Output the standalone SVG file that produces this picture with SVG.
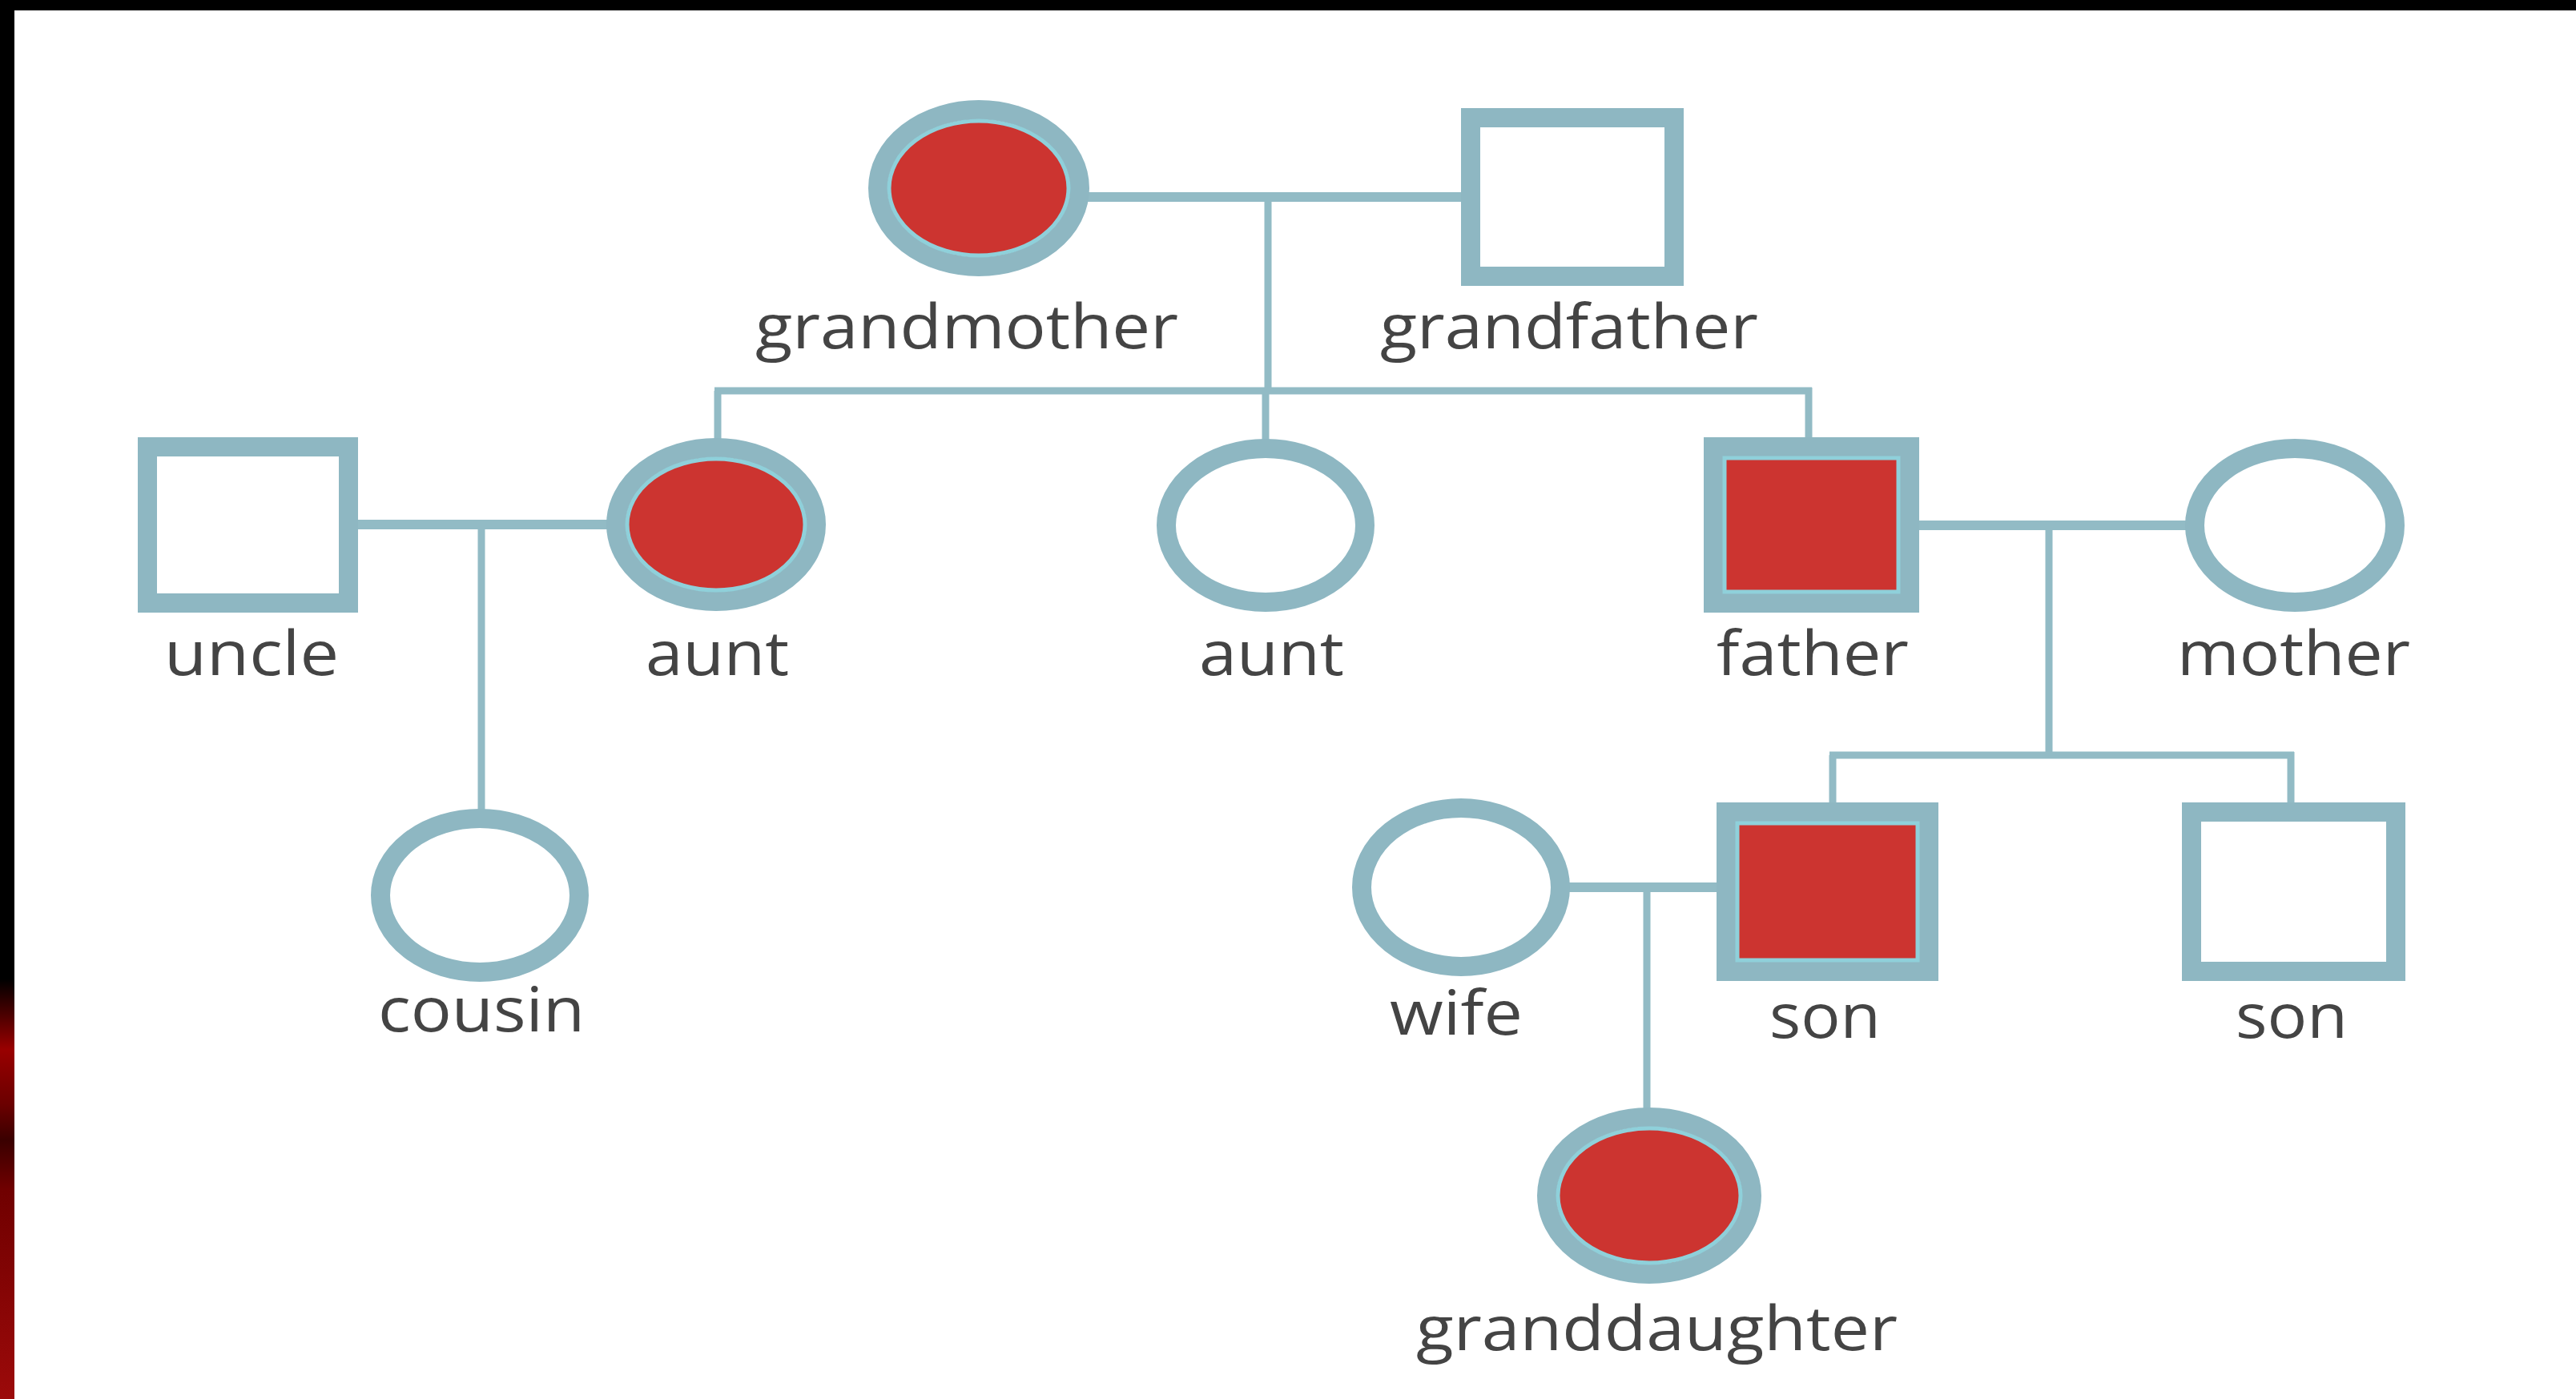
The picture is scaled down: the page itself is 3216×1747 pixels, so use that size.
<svg xmlns="http://www.w3.org/2000/svg" width="3216" height="1747" viewBox="0 0 3216 1747">
  <defs>
    <linearGradient id="edgeGrad" x1="0" y1="0" x2="0" y2="1">
      <stop offset="0" stop-color="#000"/>
      <stop offset="0.70" stop-color="#000"/>
      <stop offset="0.725" stop-color="#4a0000"/>
      <stop offset="0.75" stop-color="#990000"/>
      <stop offset="0.79" stop-color="#6a0000"/>
      <stop offset="0.815" stop-color="#3a0000"/>
      <stop offset="0.85" stop-color="#700000"/>
      <stop offset="1" stop-color="#9c0a0a"/>
    </linearGradient>
    <style>
      .ring { stroke: #8eb7c2; stroke-width: 24; }
      .open { fill: #ffffff; }
      .hit { fill: #cc3430; }
      .inner { fill: none; stroke: #8fd0da; stroke-width: 5; }
      .wire { stroke: #92bbc5; fill: none; }
      .couple { stroke-width: 12; }
      .drop { stroke-width: 9; }
      .label { font-family: "Open Sans", "Noto Sans", "Liberation Sans", sans-serif; font-size: 76px; font-weight: 500; fill: #444444; text-anchor: start; }
    </style>
  </defs>

  <!-- page background and frame -->
  <rect x="0" y="0" width="3216" height="1747" fill="#ffffff"/>
  <rect x="0" y="0" width="3216" height="13" fill="#000"/>
  <rect x="0" y="0" width="18" height="1747" fill="url(#edgeGrad)"/>

  <!-- connectors -->
  <g id="connectors" class="wire">
    <line class="couple" x1="1355" y1="246" x2="1830" y2="246"/>
    <line class="drop" x1="1583" y1="246" x2="1583" y2="488"/>
    <line class="drop" x1="892" y1="488" x2="2262" y2="488"/>
    <line class="drop" x1="896" y1="488" x2="896" y2="550"/>
    <line class="drop" x1="1580" y1="488" x2="1580" y2="550"/>
    <line class="drop" x1="2258" y1="484" x2="2258" y2="550"/>

    <line class="couple" x1="440" y1="655" x2="762" y2="655"/>
    <line class="drop" x1="601" y1="655" x2="601" y2="1012"/>

    <line class="couple" x1="2390" y1="656" x2="2733" y2="656"/>
    <line class="drop" x1="2558" y1="656" x2="2558" y2="943"/>
    <line class="drop" x1="2284" y1="943" x2="2864" y2="943"/>
    <line class="drop" x1="2288" y1="943" x2="2288" y2="1006"/>
    <line class="drop" x1="2860" y1="939" x2="2860" y2="1006"/>

    <line class="couple" x1="1955" y1="1108" x2="2150" y2="1108"/>
    <line class="drop" x1="2056" y1="1108" x2="2056" y2="1386"/>
  </g>

  <!-- first generation -->
  <g id="grandmother">
    <ellipse class="ring hit" cx="1222" cy="235" rx="126" ry="98"/>
    <ellipse class="inner" cx="1222" cy="235" rx="112" ry="84"/>
    <text class="label" x="943" y="435" textLength="528" lengthAdjust="spacingAndGlyphs">grandmother</text>
  </g>
  <g id="grandfather">
    <rect class="ring open" x="1836" y="147" width="254" height="198"/>
    <text class="label" x="1723" y="435" textLength="472" lengthAdjust="spacingAndGlyphs">grandfather</text>
  </g>

  <!-- second generation -->
  <g id="uncle">
    <rect class="ring open" x="184" y="558" width="251" height="195"/>
    <text class="label" x="205" y="843" textLength="218" lengthAdjust="spacingAndGlyphs">uncle</text>
  </g>
  <g id="aunt-affected">
    <ellipse class="ring hit" cx="894" cy="655" rx="125" ry="96"/>
    <ellipse class="inner" cx="894" cy="655" rx="111" ry="82"/>
    <text class="label" x="806" y="843" textLength="179" lengthAdjust="spacingAndGlyphs">aunt</text>
  </g>
  <g id="aunt">
    <ellipse class="ring open" cx="1580" cy="656" rx="124" ry="96"/>
    <text class="label" x="1497" y="843" textLength="181" lengthAdjust="spacingAndGlyphs">aunt</text>
  </g>
  <g id="father">
    <rect class="ring hit" x="2139" y="558" width="245" height="195"/>
    <rect class="inner" x="2153" y="572" width="217" height="167"/>
    <text class="label" x="2143" y="843" textLength="240" lengthAdjust="spacingAndGlyphs">father</text>
  </g>
  <g id="mother">
    <ellipse class="ring open" cx="2865" cy="656" rx="125" ry="96"/>
    <text class="label" x="2718" y="843" textLength="291" lengthAdjust="spacingAndGlyphs">mother</text>
  </g>

  <!-- third generation -->
  <g id="cousin">
    <ellipse class="ring open" cx="599" cy="1118" rx="124" ry="96"/>
    <text class="label" x="472" y="1288" textLength="258" lengthAdjust="spacingAndGlyphs">cousin</text>
  </g>
  <g id="wife">
    <ellipse class="ring open" cx="1824" cy="1108" rx="124" ry="99"/>
    <text class="label" x="1735" y="1292" textLength="166" lengthAdjust="spacingAndGlyphs">wife</text>
  </g>
  <g id="son-affected">
    <rect class="ring hit" x="2155" y="1014" width="253" height="199"/>
    <rect class="inner" x="2169" y="1028" width="225" height="171"/>
    <text class="label" x="2209" y="1296" textLength="139" lengthAdjust="spacingAndGlyphs">son</text>
  </g>
  <g id="son">
    <rect class="ring open" x="2736" y="1014" width="255" height="199"/>
    <text class="label" x="2791" y="1296" textLength="140" lengthAdjust="spacingAndGlyphs">son</text>
  </g>

  <!-- fourth generation -->
  <g id="granddaughter">
    <ellipse class="ring hit" cx="2059" cy="1493" rx="128" ry="98"/>
    <ellipse class="inner" cx="2059" cy="1493" rx="114" ry="84"/>
    <text class="label" x="1768" y="1686" textLength="601" lengthAdjust="spacingAndGlyphs">granddaughter</text>
  </g>
</svg>
